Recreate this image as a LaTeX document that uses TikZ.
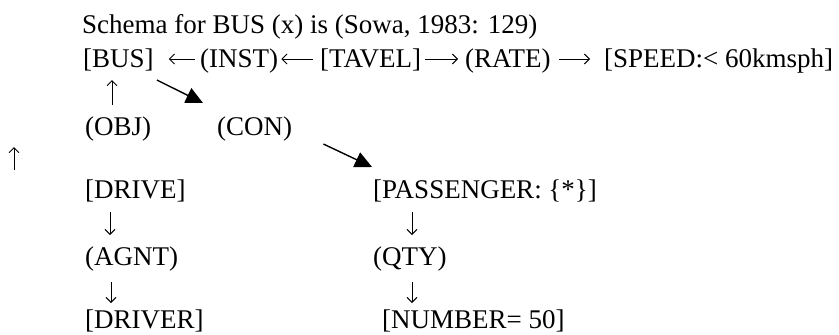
\documentclass[tikz,border=0pt]{standalone}
\usepackage{fontspec}
\setmainfont{Liberation Serif}
\usetikzlibrary{arrows.meta}
\definecolor{ink}{HTML}{000000}

\begin{document}
\begin{tikzpicture}[
  x=1pt, y=-1pt,
  font=\fontsize{27}{32}\selectfont,
  label/.style={anchor=base west, inner sep=0pt, text=ink},
  concept/.style={label},
  relation/.style={label},
  glyph/.style={-{Straight Barb[length=5pt,width=10pt]}, line width=0.9pt, draw=ink},
  link/.style={-{Triangle[length=17pt,width=16pt]}, line width=1.4pt, draw=ink}
]
\useasboundingbox (0,0) rectangle (839,335);

\node[label] (title) at (82,33) {Schema for BUS (x) is (Sowa, 1983: 129)};

\node[concept] (bus) at (83,67) {[BUS]};
\node[relation] (inst) at (200,67) {(INST)};
\node[concept] (tavel) at (320,67) {[TAVEL]};
\node[relation] (rate) at (465,67) {(RATE)};
\node[concept] (speed) at (604,67) {[SPEED:< 60kmsph]};

\node[relation] (obj) at (85,135) {(OBJ)};
\node[relation] (con) at (217,135) {(CON)};

\node[concept] (drive) at (85,198) {[DRIVE]};
\node[concept] (passenger) at (373,198) {[PASSENGER: \{*\}]};
\node[relation] (agnt) at (85,265) {(AGNT)};
\node[relation] (qty) at (373,265) {(QTY)};
\node[concept] (driver) at (85,328) {[DRIVER]};
\node[concept] (number) at (382,328) {[NUMBER= 50]};

\draw[glyph] ([xshift=-5pt,yshift=8pt]inst.base west) -- ([xshift=15pt,yshift=8pt]bus.base east);
\draw[glyph] ([xshift=-7pt,yshift=8pt]tavel.base west) -- ([xshift=3pt,yshift=8pt]inst.base east);
\draw[glyph] ([xshift=4pt,yshift=8pt]tavel.base east) -- ([xshift=-7pt,yshift=8pt]rate.base west);
\draw[glyph] ([xshift=8pt,yshift=8pt]rate.base east) -- ([xshift=-14pt,yshift=8pt]speed.base west);

\draw[glyph] ([xshift=27pt,yshift=30pt]obj.base west) -- ([xshift=29pt,yshift=-13pt]bus.base west);
\draw[link] ([xshift=3pt,yshift=-13pt]bus.base east) -- ([xshift=-14pt,yshift=32pt]con.base west);
\draw[link] ([xshift=31pt,yshift=-9pt]con.base east) -- ([xshift=-1pt,yshift=31pt]passenger.base west);

\coordinate (stray1) at (14,170);
\coordinate (stray2) at (14,147);
\draw[glyph] (stray1) -- (stray2);

\draw[glyph] ([xshift=25pt,yshift=-14pt]drive.base west) -- ([xshift=25pt,yshift=30pt]agnt.base west);
\draw[glyph] ([xshift=26pt,yshift=-17pt]agnt.base west) -- ([xshift=26pt,yshift=25pt]driver.base west);
\draw[glyph] ([xshift=39pt,yshift=-14pt]passenger.base west) -- ([xshift=39pt,yshift=30pt]qty.base west);
\draw[glyph] ([xshift=39pt,yshift=-17pt]qty.base west) -- ([xshift=30pt,yshift=25pt]number.base west);

\end{tikzpicture}
\end{document}
